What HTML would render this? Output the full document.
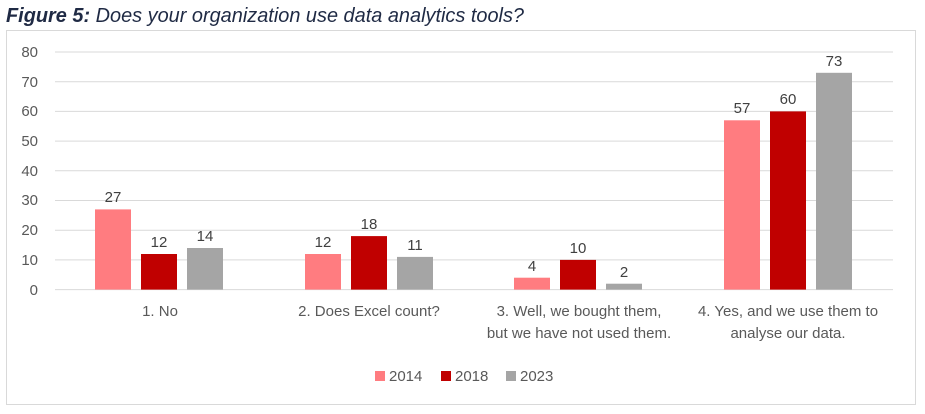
<!DOCTYPE html><html><head><style>body{margin:0;background:#fff;width:925px;height:409px;overflow:hidden;font-family:"Liberation Sans",sans-serif}</style></head><body>
<svg width="925" height="409" xmlns="http://www.w3.org/2000/svg" font-family="Liberation Sans, sans-serif">
<text x="6" y="22" font-size="20" font-style="italic" fill="#1f2a44" textLength="518" lengthAdjust="spacingAndGlyphs"><tspan font-weight="bold">Figure 5:</tspan> Does your organization use data analytics tools?</text>
<rect x="6.5" y="30.5" width="909" height="374" fill="#fff" stroke="#d9d9d9"/>
<g stroke="#d9d9d9" stroke-width="1">
<line x1="55" x2="893" y1="52" y2="52"/><line x1="55" x2="893" y1="81.7" y2="81.7"/><line x1="55" x2="893" y1="111.4" y2="111.4"/><line x1="55" x2="893" y1="141.1" y2="141.1"/><line x1="55" x2="893" y1="170.8" y2="170.8"/><line x1="55" x2="893" y1="200.5" y2="200.5"/><line x1="55" x2="893" y1="230.2" y2="230.2"/><line x1="55" x2="893" y1="259.9" y2="259.9"/><line x1="55" x2="893" y1="289.6" y2="289.6"/></g>
<g font-size="15" fill="#595959" text-anchor="end">
<text x="38" y="57">80</text><text x="38" y="87">70</text><text x="38" y="116">60</text><text x="38" y="146">50</text><text x="38" y="176">40</text><text x="38" y="205">30</text><text x="38" y="235">20</text><text x="38" y="265">10</text><text x="38" y="295">0</text></g>
<g>
<rect x="95" y="209.4" width="36" height="80.2" fill="#ff7c80"/><rect x="141" y="254" width="36" height="35.6" fill="#c00000"/><rect x="187" y="248" width="36" height="41.6" fill="#a5a5a5"/>
<rect x="305" y="254" width="36" height="35.6" fill="#ff7c80"/><rect x="351" y="236.1" width="36" height="53.5" fill="#c00000"/><rect x="397" y="256.9" width="36" height="32.7" fill="#a5a5a5"/>
<rect x="514" y="277.7" width="36" height="11.9" fill="#ff7c80"/><rect x="560" y="259.9" width="36" height="29.7" fill="#c00000"/><rect x="606" y="283.7" width="36" height="5.9" fill="#a5a5a5"/>
<rect x="724" y="120.3" width="36" height="169.3" fill="#ff7c80"/><rect x="770" y="111.4" width="36" height="178.2" fill="#c00000"/><rect x="816" y="72.8" width="36" height="216.8" fill="#a5a5a5"/>
</g>
<g font-size="15" fill="#404040" text-anchor="middle">
<text x="113" y="202">27</text><text x="159" y="247">12</text><text x="205" y="241">14</text>
<text x="323" y="247">12</text><text x="369" y="229">18</text><text x="415" y="250">11</text>
<text x="532" y="271">4</text><text x="578" y="253">10</text><text x="624" y="277">2</text>
<text x="742" y="113">57</text><text x="788" y="104">60</text><text x="834" y="66">73</text>
</g>
<g font-size="15" fill="#595959" text-anchor="middle">
<text x="160" y="316">1. No</text><text x="369" y="316">2. Does Excel count?</text>
<text x="579" y="316">3. Well, we bought them,</text><text x="579" y="338">but we have not used them.</text>
<text x="788" y="316">4. Yes, and we use them to</text><text x="788" y="338">analyse our data.</text>
</g>
<g font-size="15" fill="#595959">
<rect x="375" y="371" width="10" height="10" fill="#ff7c80"/><text x="389" y="381">2014</text>
<rect x="441" y="371" width="10" height="10" fill="#c00000"/><text x="455" y="381">2018</text>
<rect x="506" y="371" width="10" height="10" fill="#a5a5a5"/><text x="520" y="381">2023</text>
</g>
</svg></body></html>
